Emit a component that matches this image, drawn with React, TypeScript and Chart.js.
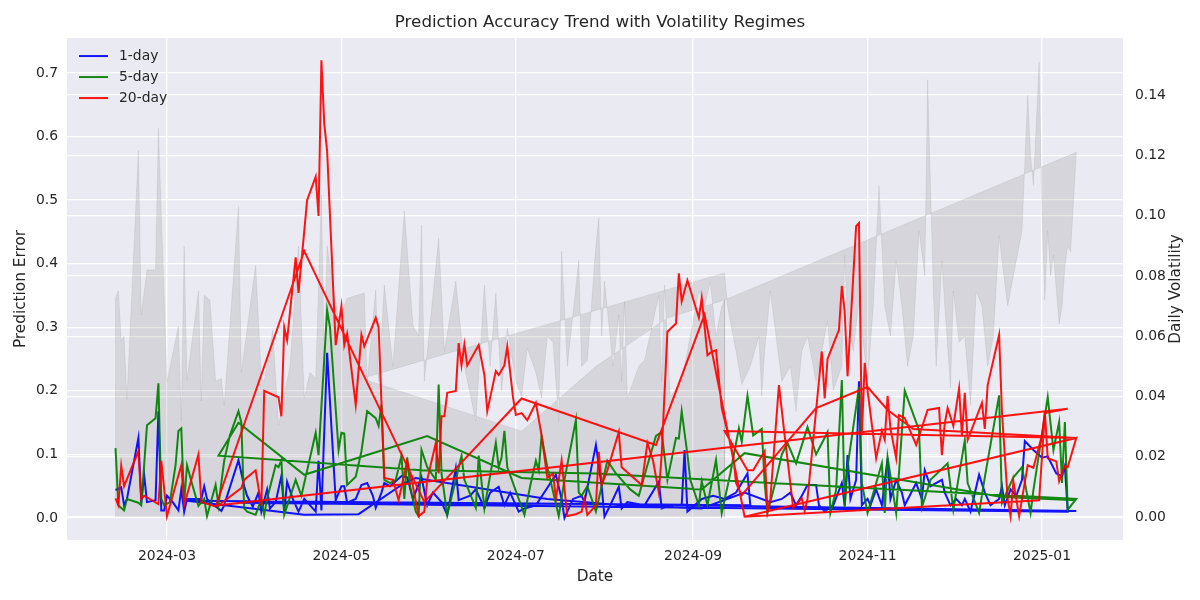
import React, { useEffect, useRef } from "react";
import { Chart, registerables } from "chart.js";

Chart.register(...registerables);

const FONT = "'DejaVu Sans', sans-serif";
const TEXT = "#262626";

// x values are day numbers counted from 2024-01-01 (= day 0)
const monthTickDays = [60, 121, 182, 244, 305, 366];
const monthTickLabels = ["2024-03", "2024-05", "2024-07", "2024-09", "2024-11", "2025-01"];
const errorTicks = [0, 0.1, 0.2, 0.3, 0.4, 0.5, 0.6, 0.7];
const volatilityTicks = [0, 0.02, 0.04, 0.06, 0.08, 0.1, 0.12, 0.14];

const seriesLabels = ["1-day", "5-day", "20-day"];
const seriesColors = ["rgba(0,0,255,0.92)", "rgba(0,128,0,0.92)", "rgba(255,0,0,0.92)"];
const volatilityLabel = "Daily Volatility";

// 1-day prediction error (points in plotted order)
const err1Days = [
  42, 44, 45, 46, 50, 51, 52, 53, 56, 57, 58, 59, 60, 62, 64, 65, 66, 67, 72, 73,
  74, 76, 79, 80, 85, 87, 88, 90, 92, 93, 95, 96, 98, 100, 101, 102, 104, 106, 108, 112,
  113, 114, 116, 119, 121, 122, 123, 126, 128, 130, 132, 133, 135, 136, 138, 142, 144, 146, 149, 151,
  153, 156, 158, 161, 162, 166, 168, 171, 173, 176, 178, 180, 183, 185, 189, 196, 198, 199, 202, 205,
  206, 210, 212, 213, 215, 218, 219, 221, 227, 232, 233, 237, 240, 241, 242, 247, 251, 255, 259, 263, 264,
  67, 108, 127, 143, 147, 193, 219, 247, 262, 271,
  275, 278, 280, 282, 284, 287, 288, 290, 293, 296, 297, 298, 299, 301, 302, 303, 305, 306, 308, 310,
  312, 313, 315, 317, 318, 322, 324, 325, 327, 331, 332, 334, 336, 338, 339, 341, 344, 346, 348, 351,
  352, 353, 355, 357, 359, 360, 363, 366, 368, 371, 373, 374, 375,
  86, 212, 378,
];
const err1 = [
  0.044, 0.048, 0.02, 0.03, 0.126, 0.024, 0.068, 0.025, 0.028, 0.168, 0.012, 0.012, 0.035, 0.025, 0.012, 0.045, 0.01, 0.03, 0.03, 0.05,
  0.03, 0.022, 0.011, 0.02, 0.091, 0.05, 0.035, 0.018, 0.04, 0.01, 0.045, 0.015, 0.025, 0.066, 0.01, 0.057, 0.03, 0.01, 0.03, 0.01,
  0.09, 0.012, 0.26, 0.028, 0.05, 0.05, 0.024, 0.03, 0.052, 0.055, 0.035, 0.016, 0.04, 0.055, 0.05, 0.066, 0.064, 0.03, 0.064, 0.02,
  0.04, 0.025, 0.005, 0.078, 0.028, 0.035, 0.045, 0.016, 0.04, 0.049, 0.02, 0.04, 0.01, 0.015, 0.02, 0.068, 0.03, 0.0, 0.03, 0.035,
  0.025, 0.115, 0.05, 0.002, 0.02, 0.049, 0.015, 0.025, 0.02, 0.057, 0.015, 0.02, 0.02, 0.107, 0.01, 0.03, 0.035, 0.03, 0.04, 0.07, 0.02,
  0.027, 0.005, 0.006, 0.055, 0.063, 0.03, 0.02, 0.015, 0.04, 0.025,
  0.03, 0.04, 0.02, 0.035, 0.052, 0.052, 0.02, 0.01, 0.02, 0.055, 0.02, 0.099, 0.03, 0.06, 0.215, 0.02, 0.03, 0.02, 0.045, 0.02,
  0.094, 0.03, 0.06, 0.04, 0.02, 0.055, 0.03, 0.075, 0.05, 0.06, 0.04, 0.02, 0.03, 0.02, 0.03, 0.01, 0.068, 0.04, 0.02, 0.03,
  0.05, 0.02, 0.045, 0.035, 0.06, 0.121, 0.107, 0.095, 0.097, 0.07, 0.066, 0.082, 0.01,
  0.024, 0.022, 0.011,
];

// 5-day prediction error
const err5Days = [
  42, 43, 45, 46, 50, 51, 53, 56, 57, 58, 59, 61, 63, 64, 65, 66, 67, 69, 71, 73,
  74, 77, 78, 80, 82, 85, 86, 87, 88, 91, 93, 94, 95, 98, 99, 100, 101, 105, 107, 112,
  113, 116, 117, 120, 121, 122, 123, 126, 128, 130, 133, 134, 135, 136, 138, 140, 142, 143, 144, 145,
  147, 148, 149, 151, 154, 155, 156, 158, 161, 163, 164, 168, 169, 171, 175, 176, 177, 178, 179, 185,
  187, 189, 190, 191, 193, 197, 199, 203, 204, 205, 207, 210, 212, 214, 217, 219, 222, 225, 228, 231,
  233, 235, 238, 239, 240, 242, 243, 246, 247, 249, 252, 254, 257, 260, 261, 263, 265, 268,
  269, 270, 273, 275, 277, 280, 284, 287, 291, 292, 294, 296, 297, 298, 302, 303, 305, 310, 311, 312,
  315, 318, 323, 324, 327, 333, 335, 339, 340, 344, 346, 351, 352, 356, 359, 362, 363, 368, 370, 372,
  373, 374, 375,
  378, 271, 210, 149, 78, 85, 108, 151, 184, 247, 262, 352, 378,
];
const err5 = [
  0.11, 0.02, 0.012, 0.03, 0.024, 0.02, 0.146, 0.157, 0.212, 0.03, 0.02, 0.025, 0.083, 0.137, 0.141, 0.024, 0.083, 0.05, 0.019, 0.03,
  0.003, 0.052, 0.02, 0.09, 0.13, 0.168, 0.15, 0.015, 0.01, 0.005, 0.03, 0.005, 0.03, 0.083, 0.08, 0.091, 0.005, 0.06, 0.035, 0.134,
  0.099, 0.327, 0.3, 0.107, 0.134, 0.133, 0.052, 0.065, 0.105, 0.168, 0.157, 0.145, 0.178, 0.06, 0.055, 0.06, 0.098, 0.03, 0.095, 0.05,
  0.01, 0.003, 0.107, 0.08, 0.06, 0.21, 0.07, 0.005, 0.06, 0.098, 0.06, 0.016, 0.098, 0.015, 0.118, 0.08, 0.095, 0.137, 0.08, 0.005,
  0.05, 0.09, 0.075, 0.129, 0.08, 0.003, 0.06, 0.154, 0.04, 0.035, 0.05, 0.01, 0.05, 0.09, 0.07, 0.06, 0.045, 0.035, 0.083, 0.129,
  0.135, 0.06, 0.126, 0.125, 0.168, 0.1, 0.06, 0.02, 0.058, 0.02, 0.091, 0.008, 0.07, 0.141, 0.12, 0.192, 0.13, 0.14,
  0.055, 0.008, 0.06, 0.1, 0.118, 0.086, 0.143, 0.1, 0.135, 0.008, 0.044, 0.217, 0.017, 0.08, 0.206, 0.055, 0.008, 0.086, 0.008, 0.096,
  0.008, 0.2, 0.138, 0.017, 0.06, 0.086, 0.013, 0.122, 0.055, 0.008, 0.064, 0.193, 0.024, 0.064, 0.08, 0.008, 0.044, 0.19, 0.107, 0.151,
  0.055, 0.151, 0.013,
  0.03, 0.055, 0.07, 0.075, 0.098, 0.15, 0.068, 0.129, 0.063, 0.045, 0.102, 0.033, 0.028,
];

// 20-day prediction error
const err20Days = [
  42, 43, 44, 45, 50, 51, 52, 57, 58, 60, 65, 66, 71, 72, 77,
  108, 150, 184, 231, 248, 262,
  365, 367, 375,
  78, 86, 87, 91, 93, 94, 99, 100, 101, 102, 105, 106, 109, 112, 113, 114, 115, 116, 119, 121,
  122, 123, 126, 128, 129, 133, 134, 136, 139, 141, 144, 146, 148, 150, 151, 154, 155, 156, 157, 158,
  161, 162, 163, 164, 165, 169, 171, 172, 175, 176, 178, 179, 181, 182, 184, 186, 189, 191, 193, 195,
  196, 198, 200, 203, 205, 206, 207, 210, 211, 212, 214, 218, 219, 226, 228, 230, 232, 233, 235, 238,
  239, 240, 242, 246, 247, 249, 250, 252, 254, 258, 259, 261,
  287, 305, 312, 321, 378,
  255,
  263, 265, 269, 270, 271, 274, 276, 279, 282, 283, 284, 289, 290, 291, 295, 296, 297, 298, 301, 302,
  303, 304, 305, 308, 310, 311, 312, 313, 315, 316, 318, 322, 326, 330, 331, 332, 333, 335, 337, 338,
  339, 340, 345, 346, 347, 351, 352, 354, 355, 356, 358, 361, 363, 366, 367, 368, 371, 372, 374, 375,
  378, 262,
];
const err20 = [
  0.031, 0.02, 0.082, 0.05, 0.105, 0.03, 0.035, 0.022, 0.09, 0.003, 0.083, 0.02, 0.1, 0.025, 0.018,
  0.42, 0.025, 0.188, 0.115, 0.32, 0.002,
  0.028, 0.165, 0.172,
  0.02, 0.047, 0.06, 0.075, 0.02, 0.2, 0.19, 0.16, 0.3, 0.28, 0.41, 0.354, 0.5, 0.537, 0.475, 0.72, 0.62, 0.577, 0.272, 0.333,
  0.272, 0.29, 0.178, 0.288, 0.27, 0.315, 0.3, 0.063, 0.06, 0.028, 0.09, 0.05, 0.003, 0.01, 0.06, 0.118, 0.07, 0.16, 0.16, 0.197,
  0.2, 0.275, 0.24, 0.273, 0.24, 0.272, 0.225, 0.168, 0.231, 0.225, 0.24, 0.27, 0.19, 0.162, 0.165, 0.154, 0.181, 0.13, 0.063, 0.07,
  0.03, 0.09, 0.003, 0.006, 0.01, 0.03, 0.005, 0.02, 0.104, 0.052, 0.075, 0.135, 0.08, 0.052, 0.118, 0.09, 0.04, 0.1, 0.293, 0.306,
  0.385, 0.341, 0.374, 0.315, 0.346, 0.256, 0.26, 0.264, 0.173, 0.099, 0.055, 0.036,
  0.173, 0.206, 0.17, 0.14, 0.126,
  0.137,
  0.075, 0.075, 0.105, 0.011, 0.03, 0.209, 0.13, 0.016, 0.031, 0.011, 0.03, 0.262, 0.188, 0.25, 0.296, 0.365, 0.325, 0.223, 0.459, 0.464,
  0.13, 0.244, 0.2, 0.094, 0.137, 0.123, 0.192, 0.141, 0.094, 0.162, 0.157, 0.115, 0.17, 0.173, 0.099, 0.149, 0.173, 0.145, 0.204, 0.13,
  0.197, 0.123, 0.181, 0.14, 0.209, 0.288, 0.166, 0.03, 0.003, 0.058, 0.003, 0.083, 0.079, 0.13, 0.168, 0.094, 0.089, 0.058, 0.082, 0.08,
  0.126, 0.002,
];

// daily volatility (right axis), in plotted order
const volDays = [
  42, 43, 44, 45, 46, 50, 51, 53, 56, 57, 60, 64, 65, 66, 67, 71, 72, 73, 75, 77,
  79, 80, 85, 86, 91, 93, 94, 97, 99, 103, 106, 108, 110, 112, 114, 115, 116, 120, 123, 129,
  130, 133, 134, 136, 139, 143, 146, 148, 149, 150, 155, 157, 161, 164, 168, 171, 173, 175, 177, 179,
  182, 184, 186, 189, 191, 193, 195, 197, 198, 200, 204, 205, 207, 210, 211, 212, 213, 216, 218, 219,
  220, 221, 225, 227, 232, 233, 234, 236, 240, 243, 246, 248, 250, 252, 254, 255,
  378, 376, 375, 374, 373, 372, 370, 369, 368, 367, 366, 365, 363, 362, 361, 359, 356, 354, 352, 351,
  349, 347, 345, 343, 341, 339, 337, 335, 334, 332, 331, 329, 328, 326, 325, 323, 321, 319, 317, 315,
  313, 311, 310, 309, 307, 305, 303, 302, 300, 298, 297, 296, 293, 291, 289, 287, 284, 282, 280, 278,
  275, 273, 271, 269, 268, 267, 264, 261, 259, 256, 255,
  128, 184, 210, 235, 255,
];
const volValues = [
  0.0726, 0.075, 0.0584, 0.06, 0.039, 0.1217, 0.067, 0.082, 0.082, 0.129, 0.045, 0.0634, 0.032, 0.0899, 0.0454, 0.075, 0.0385, 0.0736, 0.072, 0.045,
  0.046, 0.037, 0.103, 0.048, 0.0836, 0.046, 0.045, 0.062, 0.0305, 0.05, 0.09, 0.0395, 0.048, 0.046, 0.107, 0.048, 0.09, 0.065, 0.0726, 0.0743,
  0.045, 0.0753, 0.045, 0.077, 0.05, 0.1015, 0.0637, 0.06, 0.0969, 0.0451, 0.0925, 0.055, 0.0783, 0.05, 0.0318, 0.077, 0.05, 0.0743, 0.0418, 0.0627,
  0.045, 0.04, 0.056, 0.048, 0.0395, 0.06, 0.058, 0.0318, 0.0882, 0.05, 0.0852, 0.05, 0.052, 0.0902, 0.0992, 0.06, 0.0783, 0.05, 0.067, 0.045,
  0.0716, 0.0395, 0.05, 0.052, 0.0736, 0.045, 0.077, 0.04, 0.045, 0.06, 0.075, 0.07, 0.078, 0.06, 0.07, 0.072,
  0.121, 0.088, 0.09, 0.083, 0.07, 0.064, 0.087, 0.08, 0.095, 0.072, 0.1, 0.151, 0.11, 0.12, 0.14, 0.095, 0.08, 0.07, 0.085, 0.0935,
  0.06, 0.05, 0.07, 0.075, 0.037, 0.06, 0.058, 0.075, 0.043, 0.07, 0.085, 0.05, 0.075, 0.145, 0.08, 0.095, 0.06, 0.05, 0.07, 0.085,
  0.06, 0.07, 0.09, 0.11, 0.07, 0.045, 0.062, 0.072, 0.055, 0.065, 0.087, 0.05, 0.042, 0.065, 0.055, 0.045, 0.06, 0.055, 0.035, 0.05,
  0.045, 0.06, 0.075, 0.055, 0.04, 0.06, 0.05, 0.044, 0.055, 0.07, 0.081,
  0.046, 0.0285, 0.05, 0.066, 0.072,
];

const toPoints = (xs: number[], ys: number[]) => xs.map((x, i) => ({ x, y: ys[i] }));

export default function App() {
  const ref = useRef<HTMLCanvasElement | null>(null);

  useEffect(() => {
    const canvas = ref.current;
    if (!canvas) return;

    const volPoints = [
      { x: volDays[0], y: 0 },
      ...toPoints(volDays, volValues),
      { x: volDays[volDays.length - 1], y: 0 },
    ];

    const bgPlugin = {
      id: "sbBackground",
      beforeDraw(chart: any) {
        const { ctx, chartArea } = chart;
        ctx.save();
        ctx.fillStyle = "#EAEAF2";
        ctx.fillRect(chartArea.left, chartArea.top, chartArea.width, chartArea.height);
        ctx.restore();
      },
    };

    const legendPlugin = {
      id: "sbLegend",
      afterDatasetsDraw(chart: any) {
        const { ctx, chartArea } = chart;
        ctx.save();
        ctx.font = `13.9px ${FONT}`;
        ctx.textBaseline = "middle";
        ctx.textAlign = "left";
        seriesLabels.forEach((label, i) => {
          const y = chartArea.top + 18 + i * 21;
          const x0 = chartArea.left + 12;
          ctx.strokeStyle = seriesColors[i];
          ctx.lineWidth = 2;
          ctx.beginPath();
          ctx.moveTo(x0, y);
          ctx.lineTo(x0 + 29, y);
          ctx.stroke();
          ctx.fillStyle = TEXT;
          ctx.fillText(label, x0 + 40, y + 0.5);
        });
        ctx.restore();
      },
    };

    // right axis title, reading bottom-to-top like the left one
    const rightTitlePlugin = {
      id: "sbRightTitle",
      afterDraw(chart: any) {
        const { ctx, chartArea } = chart;
        const s = chart.scales.y2;
        ctx.save();
        ctx.translate(s.right - 23.5, (chartArea.top + chartArea.bottom) / 2);
        ctx.rotate(-Math.PI / 2);
        ctx.font = `15.3px ${FONT}`;
        ctx.fillStyle = TEXT;
        ctx.textAlign = "center";
        ctx.textBaseline = "middle";
        ctx.fillText(volatilityLabel, 0, 0);
        ctx.restore();
      },
    };

    const lineDs = (label: string, xs: number[], ys: number[], color: string, order: number) => ({
      label,
      data: toPoints(xs, ys),
      borderColor: color,
      backgroundColor: color,
      borderWidth: 2,
      pointRadius: 0,
      pointHoverRadius: 0,
      tension: 0,
      fill: false,
      yAxisID: "y",
      order,
    });

    const tickFont = { family: FONT, size: 13.9 };
    const labelFont = { family: FONT, size: 15.3 };
    const grid = { color: "#FFFFFF", lineWidth: 1.3, drawTicks: false };

    const chart = new Chart(canvas, {
      type: "line",
      data: {
        datasets: [
          lineDs("1-day", err1Days, err1, seriesColors[0], 3),
          lineDs("5-day", err5Days, err5, seriesColors[1], 2),
          lineDs("20-day", err20Days, err20, seriesColors[2], 1),
          {
            label: volatilityLabel,
            data: volPoints,
            borderColor: "rgba(128,128,128,0.18)",
            backgroundColor: "rgba(128,128,128,0.2)",
            borderWidth: 0.8,
            pointRadius: 0,
            pointHoverRadius: 0,
            tension: 0,
            fill: "shape",
            yAxisID: "y2",
            order: 4,
          } as any,
        ],
      },
      options: {
        animation: false,
        responsive: false,
        events: [],
        layout: { padding: 0 },
        plugins: {
          legend: { display: false },
          tooltip: { enabled: false },
          title: {
            display: true,
            text: "Prediction Accuracy Trend with Volatility Regimes",
            color: TEXT,
            font: { family: FONT, size: 16.7, weight: "normal" },
            padding: { top: 13, bottom: 5 },
          },
        },
        scales: {
          x: {
            type: "linear",
            min: 25.03,
            max: 394.33,
            afterBuildTicks: (s: any) => {
              s.ticks = monthTickDays.map((value) => ({ value }));
            },
            afterFit: (s: any) => {
              s.height = 60;
            },
            ticks: {
              color: TEXT,
              font: tickFont,
              padding: 8.5,
              maxRotation: 0,
              autoSkip: false,
              callback: (v: any) => {
                const i = monthTickDays.indexOf(Number(v));
                return i >= 0 ? monthTickLabels[i] : "";
              },
            },
            grid,
            border: { display: false },
            title: { display: true, text: "Date", color: TEXT, font: labelFont, padding: { top: 0, bottom: 13.8 } },
          },
          y: {
            type: "linear",
            position: "left",
            min: -0.0346,
            max: 0.755,
            afterBuildTicks: (s: any) => {
              s.ticks = errorTicks.map((value) => ({ value }));
            },
            afterFit: (s: any) => {
              s.width = 67;
            },
            ticks: { color: TEXT, font: tickFont, padding: 9, callback: (v: any) => Number(v).toFixed(1) },
            grid,
            border: { display: false },
            title: { display: true, text: "Prediction Error", color: TEXT, font: labelFont, padding: { top: 11.8, bottom: 0 } },
          },
          y2: {
            type: "linear",
            position: "right",
            min: -0.0076,
            max: 0.1589,
            afterBuildTicks: (s: any) => {
              s.ticks = volatilityTicks.map((value) => ({ value }));
            },
            afterFit: (s: any) => {
              s.width = 77;
            },
            ticks: { color: TEXT, font: tickFont, padding: 12, callback: (v: any) => Number(v).toFixed(2) },
            grid,
            border: { display: false },
            title: { display: false },
          },
        },
      } as any,
      plugins: [bgPlugin, legendPlugin, rightTitlePlugin],
    });

    return () => chart.destroy();
  }, []);

  return (
    <div style={{ position: "absolute", left: 0, top: 0, width: 1200, height: 600, background: "#FFFFFF" }}>
      <canvas ref={ref} width={1200} height={600} style={{ display: "block", width: 1200, height: 600 }} />
    </div>
  );
}
